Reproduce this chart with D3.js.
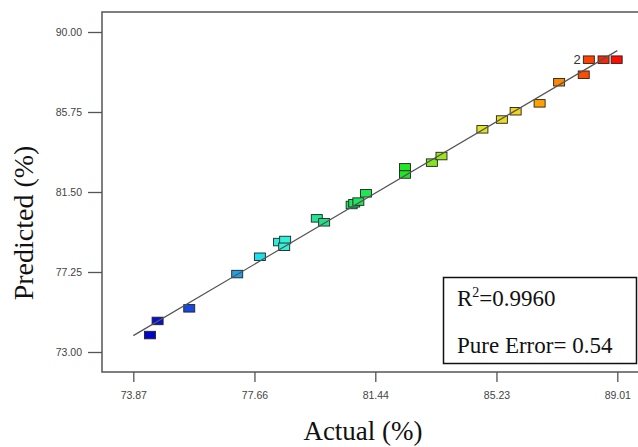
<!DOCTYPE html>
<html>
<head>
<meta charset="utf-8">
<script src="https://cdn.jsdelivr.net/npm/d3@7"></script>
<style>
  body { margin: 0; background: #fff; }
  svg { display: block; }
</style>
</head>
<body>
<div id="wrapper"></div>
<script>
// values
const actual    = [74.39, 74.63, 75.62, 77.12, 77.83, 78.43, 78.62, 78.59, 79.61, 79.84,
                   80.70, 80.78, 80.91, 81.15, 82.37, 82.37, 83.21, 83.51, 84.79, 85.40,
                   85.83, 86.58, 87.19, 87.96, 88.12, 88.58, 88.99]
const predicted = [73.90, 74.65, 75.32, 77.14, 78.06, 78.84, 78.95, 78.59, 80.10, 79.89,
                   80.81, 80.90, 80.99, 81.43, 82.81, 82.43, 83.06, 83.41, 84.83, 85.35,
                   85.79, 86.21, 87.33, 87.73, 88.53, 88.53, 88.53]
const xTicks = [73.87, 77.66, 81.44, 85.23, 89.01]
const yTicks = [73.00, 77.25, 81.50, 85.75, 90.00]
const labels = [{index: 24, text: "2"}]
const stats = {r2: "0.9960", pureError: "0.54"}

function drawChart() {
  const data = actual.map((a, i) => ({actual: a, predicted: predicted[i]}))
  const xAccessor = d => d.actual
  const yAccessor = d => d.predicted

  const dimensions = {
    width: 638,
    height: 447,
    margin: {top: 12, left: 102, bottom: 75, right: -8}
  }
  dimensions.boundedWidth = dimensions.width - dimensions.margin.left - dimensions.margin.right
  dimensions.boundedHeight = dimensions.height - dimensions.margin.top - dimensions.margin.bottom

  // tick positions measured: 73.87 -> 133.3px, 89.01 -> 617.3px
  const xScale = d3.scaleLinear()
    .domain([73.87, 89.01])
    .range([133.3 - dimensions.margin.left, 617.3 - dimensions.margin.left])

  const yScale = d3.scaleLinear()
    .domain([73, 90])
    .range([352 - dimensions.margin.top, 32 - dimensions.margin.top])

  const colorScale = d3.scaleLinear()
    .domain([74.3, 75.6, 77.1, 77.9, 78.6, 79.7, 80.9, 82.4, 83.4, 84.9, 85.9, 86.6, 87.3, 88.0, 88.6])
    .range(["#0000c8", "#1848dc", "#1e9ee6", "#1ee4ea", "#30f0d8", "#22e28e", "#1ee65a",
            "#22e622", "#96e61e", "#e6e61e", "#f2d21e", "#ffa000", "#ff8200", "#ff4a00", "#ff2400"])

  const svg = d3.select("#wrapper")
    .append("svg")
    .attr("width", dimensions.width)
    .attr("height", dimensions.height)

  const bounds = svg.append("g")
    .attr("transform", `translate(${dimensions.margin.left},${dimensions.margin.top})`)

  // frame (right side falls outside the picture)
  bounds.append("rect")
    .attr("width", dimensions.boundedWidth)
    .attr("height", dimensions.boundedHeight)
    .attr("fill", "none")
    .attr("stroke", "#555")
    .attr("stroke-width", 1.5)

  // axes
  const yAxis = bounds.append("g")
    .call(d3.axisLeft(yScale).tickValues(yTicks).tickFormat(d3.format(".2f")).tickSize(14).tickPadding(6))
  const xAxis = bounds.append("g")
    .attr("transform", `translate(0,${dimensions.boundedHeight})`)
    .call(d3.axisBottom(xScale).tickValues(xTicks).tickFormat(d3.format(".2f")).tickSize(10).tickPadding(10))

  ;[xAxis, yAxis].forEach(axis => {
    axis.select(".domain").remove()
    axis.selectAll("line").attr("stroke", "#555").attr("stroke-width", 1.3)
    axis.selectAll("text")
      .attr("fill", "#444")
      .style("font-family", "'Liberation Sans', Arial, sans-serif")
      .style("font-size", "10.5px")
  })

  // points
  bounds.append("g")
    .selectAll("rect")
    .data(data)
    .join("rect")
      .attr("x", d => xScale(xAccessor(d)) - 5.5)
      .attr("y", d => yScale(yAccessor(d)) - 3.75)
      .attr("width", 11)
      .attr("height", 7.5)
      .attr("fill", d => colorScale(xAccessor(d)))
      .attr("stroke", "#222")
      .attr("stroke-width", 0.9)

  // y = x line
  const lineGenerator = d3.line()
    .x(d => xScale(d))
    .y(d => yScale(d))
  bounds.append("path")
    .attr("d", lineGenerator(d3.extent(xTicks)))
    .attr("fill", "none")
    .attr("stroke", "#555")
    .attr("stroke-width", 1.2)

  bounds.selectAll(".count-label")
    .data(labels)
    .join("text")
      .attr("class", "count-label")
      .attr("x", d => xScale(actual[d.index]) - 8)
      .attr("y", d => yScale(predicted[d.index]) + 4.5)
      .attr("text-anchor", "end")
      .attr("fill", "#333")
      .style("font-family", "'Liberation Sans', Arial, sans-serif")
      .style("font-size", "13px")
      .text(d => d.text)

  // stats box
  const box = svg.append("g")
  box.append("rect")
    .attr("x", 443.5)
    .attr("y", 277.5)
    .attr("width", 193)
    .attr("height", 86)
    .attr("fill", "#fff")
    .attr("stroke", "#111")
    .attr("stroke-width", 1.5)

  const serif = "'Liberation Serif', 'Times New Roman', serif"
  const r2 = box.append("text")
    .attr("x", 457)
    .attr("y", 306)
    .style("font-family", serif)
    .style("font-size", "23px")
    .attr("fill", "#111")
  r2.append("tspan").text("R")
  r2.append("tspan").attr("dy", -9).style("font-size", "14px").text("2")
  r2.append("tspan").attr("dy", 9).text("=" + stats.r2)

  box.append("text")
    .attr("x", 457)
    .attr("y", 353)
    .style("font-family", serif)
    .style("font-size", "23px")
    .attr("fill", "#111")
    .text("Pure Error= " + stats.pureError)

  // axis titles
  svg.append("text")
    .attr("x", 363)
    .attr("y", 440)
    .attr("text-anchor", "middle")
    .style("font-family", serif)
    .style("font-size", "27px")
    .attr("fill", "#111")
    .text("Actual (%)")

  svg.append("text")
    .attr("transform", "translate(33,223) rotate(-90)")
    .attr("text-anchor", "middle")
    .style("font-family", serif)
    .style("font-size", "28px")
    .attr("fill", "#111")
    .text("Predicted (%)")
}

drawChart()
</script>
</body>
</html>
